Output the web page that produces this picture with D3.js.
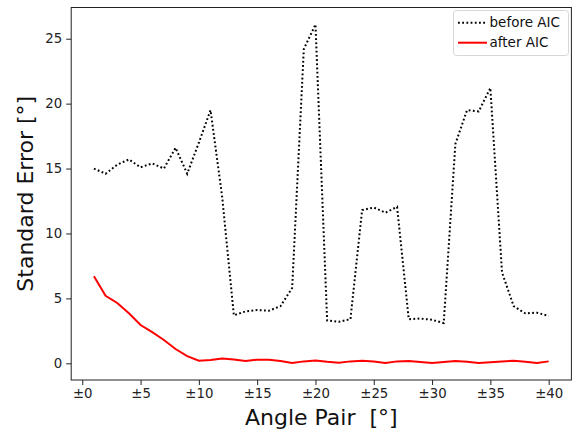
<!DOCTYPE html>
<html>
<head>
<meta charset="utf-8">
<script src="https://cdn.jsdelivr.net/npm/d3@7/dist/d3.min.js"></script>
<style>
  html, body { margin: 0; padding: 0; background: #fff; }
  svg { display: block; font-family: "DejaVu Sans", sans-serif; }
  svg text { font-family: "DejaVu Sans", sans-serif; white-space: pre; }
</style>
</head>
<body>
<svg id="chart" width="577" height="434"></svg>
<script>
// Angle pairs ±1 … ±40
const anglePairs = d3.range(1, 41);

// Standard error of each angle pair before model selection
const beforeAIC = [
  15.0, 14.6, 15.3, 15.7, 15.1, 15.4, 15.0, 16.6, 14.6, 17.0,
  19.5, 12.8, 3.7, 4.0, 4.1, 4.05, 4.4, 5.8, 24.2, 26.1,
  3.3, 3.2, 3.4, 11.8, 12.0, 11.6, 12.05, 3.4, 3.45, 3.35,
  3.1, 16.9, 19.5, 19.4, 21.2, 7.0, 4.4, 3.85, 3.9, 3.65
];

// Standard error after AIC-based model selection
const afterAIC = [
  6.7, 5.2, 4.65, 3.85, 2.95, 2.4, 1.8, 1.1, 0.56, 0.2,
  0.25, 0.38, 0.3, 0.18, 0.28, 0.28, 0.18, 0.02, 0.15, 0.22,
  0.12, 0.05, 0.15, 0.2, 0.14, 0.02, 0.15, 0.17, 0.1, 0.02,
  0.1, 0.17, 0.12, 0.02, 0.08, 0.15, 0.2, 0.12, 0.02, 0.15
];

const xTickValues = [0, 5, 10, 15, 20, 25, 30, 35, 40];
const yTickValues = [0, 5, 10, 15, 20, 25];
const seriesNames = ["before AIC", "after AIC"];

const svg = d3.select("#chart");
const plot = { left: 71.2, right: 571.4, top: 7.5, bottom: 380 };

// Axis limits padded by 5% of the data span on each side
function padded(lo, hi) {
  const m = (hi - lo) * 0.05;
  return [lo - m, hi + m];
}
const xExt = d3.extent(anglePairs);
const yExt = d3.extent(beforeAIC.concat(afterAIC));

const x = d3.scaleLinear().domain(padded(xExt[0], xExt[1])).range([plot.left, plot.right]);
const y = d3.scaleLinear().domain(padded(yExt[0], yExt[1])).range([plot.bottom, plot.top]);

// Axes
const xAxis = d3.axisBottom(x).tickValues(xTickValues).tickFormat(d => "±" + d)
  .tickSizeOuter(0).tickSizeInner(5).tickPadding(4);
const yAxis = d3.axisLeft(y).tickValues(yTickValues).tickFormat(d3.format("d"))
  .tickSizeOuter(0).tickSizeInner(5).tickPadding(4);

const gx = svg.append("g").attr("transform", `translate(0,${plot.bottom})`).call(xAxis);
const gy = svg.append("g").attr("transform", `translate(${plot.left},0)`).call(yAxis);
[gx, gy].forEach(g => {
  g.attr("font-family", null).attr("font-size", null);
  g.select(".domain").remove();
  g.selectAll(".tick line").attr("stroke", "#222").attr("stroke-width", 1);
  g.selectAll(".tick text").attr("fill", "#222").style("font-size", "13.3px");
});

// Frame
svg.append("rect")
  .attr("x", plot.left).attr("y", plot.top)
  .attr("width", plot.right - plot.left).attr("height", plot.bottom - plot.top)
  .attr("fill", "none").attr("stroke", "#222").attr("stroke-width", 1);

// Series lines
const line = d3.line().x((d, i) => x(anglePairs[i])).y(d => y(d));

svg.append("path")
  .datum(beforeAIC)
  .attr("d", line)
  .attr("fill", "none")
  .attr("stroke", "#000")
  .attr("stroke-width", 2)
  .attr("stroke-dasharray", "1.8,2.4");

svg.append("path")
  .datum(afterAIC)
  .attr("d", line)
  .attr("fill", "none")
  .attr("stroke", "#ff0000")
  .attr("stroke-width", 2);

// Axis labels
svg.append("text")
  .attr("x", (plot.left + plot.right) / 2)
  .attr("y", 425)
  .attr("text-anchor", "middle")
  .attr("fill", "#111")
  .style("font-size", "22px")
  .text("Angle Pair  [°]");

svg.append("text")
  .attr("transform", `translate(33,${(plot.top + plot.bottom) / 2}) rotate(-90)`)
  .attr("text-anchor", "middle")
  .attr("fill", "#111")
  .style("font-size", "22px")
  .text("Standard Error [°]");

// Legend
const legend = svg.append("g");
legend.append("rect")
  .attr("x", 453.5).attr("y", 10.5).attr("width", 115).attr("height", 45)
  .attr("rx", 3).attr("fill", "#fff").attr("fill-opacity", 0.8)
  .attr("stroke", "#d6d6d6").attr("stroke-width", 1);

const legendStyles = [
  { stroke: "#000", dash: "1.8,2.4" },
  { stroke: "#ff0000", dash: null }
];
seriesNames.forEach((name, i) => {
  const cy = 22.7 + i * 20;
  legend.append("line")
    .attr("x1", 458).attr("x2", 487).attr("y1", cy).attr("y2", cy)
    .attr("stroke", legendStyles[i].stroke).attr("stroke-width", 2)
    .attr("stroke-dasharray", legendStyles[i].dash);
  legend.append("text")
    .attr("x", 489.5).attr("y", cy).attr("dy", "0.35em")
    .attr("fill", "#111")
    .style("font-size", "13.5px")
    .text(name);
});
</script>
</body>
</html>
